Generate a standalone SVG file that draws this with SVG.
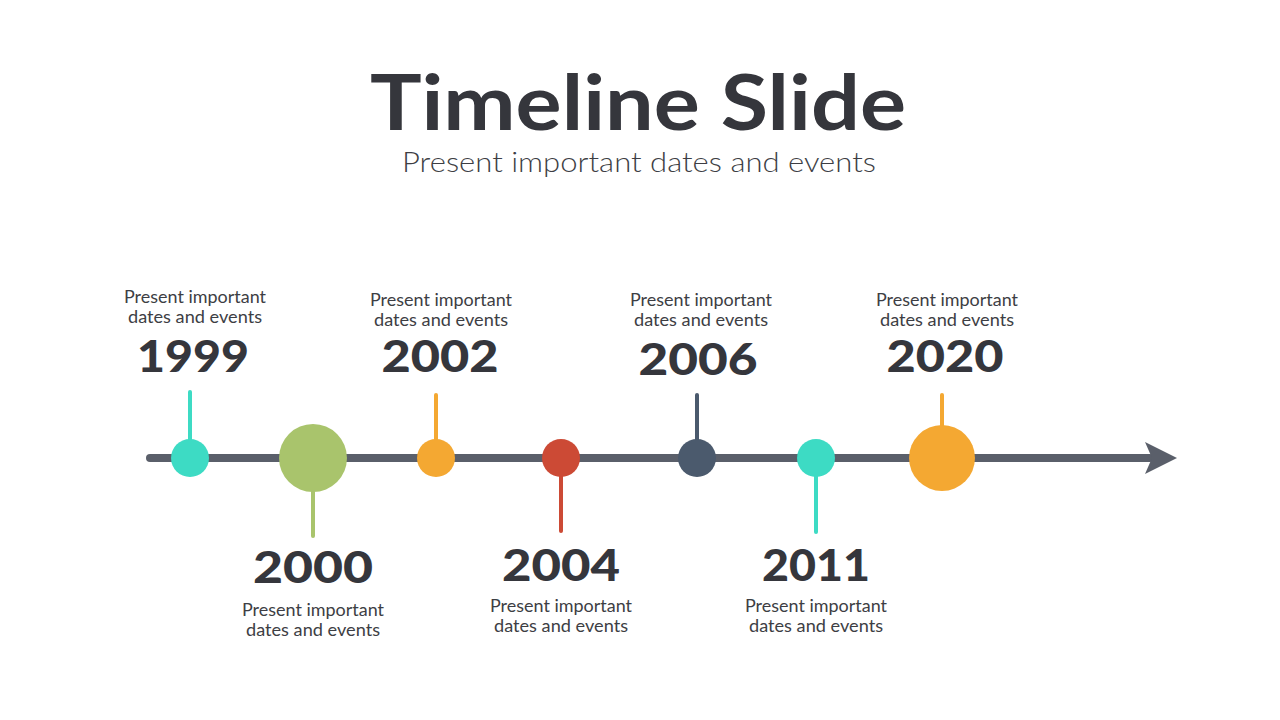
<svg xmlns="http://www.w3.org/2000/svg" width="1280" height="720" viewBox="0 0 1280 720">
<style>
.title{font-family:Lato,"Open Sans","Liberation Sans",sans-serif;font-weight:700;font-size:76px;fill:#35363c;text-anchor:middle}
.sub{font-family:Lato,"Open Sans","Liberation Sans",sans-serif;font-weight:300;font-size:28px;fill:#3d3e44;text-anchor:middle}
.year{font-family:Lato,"Open Sans","Liberation Sans",sans-serif;font-weight:900;font-size:44px;fill:#35363c;text-anchor:middle}
.desc{font-family:Lato,"Open Sans","Liberation Sans",sans-serif;font-size:17px;fill:#3d3e44;text-anchor:middle}
.stem{stroke-width:4;stroke-linecap:round;fill:none}
</style>
<rect width="1280" height="720" fill="#ffffff"/>
<text class="title" x="638" y="130" textLength="536" lengthAdjust="spacingAndGlyphs">Timeline Slide</text>
<text class="sub" x="639" y="172" textLength="474" lengthAdjust="spacingAndGlyphs">Present important dates and events</text>
<g id="connectors">
<line x1="150" y1="458" x2="1150" y2="458" stroke="#5a5f6a" stroke-width="8" stroke-linecap="round"/>
<path d="M1145,442 L1177,458 L1145,474 L1152,458 Z" fill="#5a5f6a"/>
<line class="stem" x1="190" y1="392" x2="190" y2="440" stroke="#3ddbc4"/>
<line class="stem" x1="313" y1="490" x2="313" y2="536" stroke="#a9c46c"/>
<line class="stem" x1="436" y1="395" x2="436" y2="440" stroke="#f4a832"/>
<line class="stem" x1="561" y1="476" x2="561" y2="531" stroke="#cc4a35"/>
<line class="stem" x1="697" y1="395" x2="697" y2="440" stroke="#4b5a6d"/>
<line class="stem" x1="816" y1="476" x2="816" y2="532" stroke="#3ddbc4"/>
<line class="stem" x1="942" y1="395" x2="942" y2="426" stroke="#f4a832"/>
</g>
<g id="n1999">
<circle cx="190" cy="458" r="19" fill="#3ddbc4"/>
<text class="desc" x="195" y="303" textLength="142" lengthAdjust="spacingAndGlyphs">Present important</text>
<text class="desc" x="195" y="323" textLength="134" lengthAdjust="spacingAndGlyphs">dates and events</text>
<text class="year" x="193" y="372" textLength="112" lengthAdjust="spacingAndGlyphs">1999</text>
</g>
<g id="n2000">
<circle cx="313" cy="458" r="34" fill="#a9c46c"/>
<text class="year" x="313" y="583" textLength="120" lengthAdjust="spacingAndGlyphs">2000</text>
<text class="desc" x="313" y="616" textLength="142" lengthAdjust="spacingAndGlyphs">Present important</text>
<text class="desc" x="313" y="636" textLength="134" lengthAdjust="spacingAndGlyphs">dates and events</text>
</g>
<g id="n2002">
<circle cx="436" cy="458" r="19" fill="#f4a832"/>
<text class="desc" x="441" y="306" textLength="142" lengthAdjust="spacingAndGlyphs">Present important</text>
<text class="desc" x="441" y="326" textLength="134" lengthAdjust="spacingAndGlyphs">dates and events</text>
<text class="year" x="440" y="372" textLength="117" lengthAdjust="spacingAndGlyphs">2002</text>
</g>
<g id="n2004">
<circle cx="561" cy="458" r="19" fill="#cc4a35"/>
<text class="year" x="561" y="581" textLength="118" lengthAdjust="spacingAndGlyphs">2004</text>
<text class="desc" x="561" y="612" textLength="142" lengthAdjust="spacingAndGlyphs">Present important</text>
<text class="desc" x="561" y="632" textLength="134" lengthAdjust="spacingAndGlyphs">dates and events</text>
</g>
<g id="n2006">
<circle cx="697" cy="458" r="19" fill="#4b5a6d"/>
<text class="desc" x="701" y="306" textLength="142" lengthAdjust="spacingAndGlyphs">Present important</text>
<text class="desc" x="701" y="326" textLength="134" lengthAdjust="spacingAndGlyphs">dates and events</text>
<text class="year" x="698" y="375" textLength="119" lengthAdjust="spacingAndGlyphs">2006</text>
</g>
<g id="n2011">
<circle cx="816" cy="458" r="19" fill="#3ddbc4"/>
<text class="year" x="816" y="581" textLength="108" lengthAdjust="spacingAndGlyphs">2011</text>
<text class="desc" x="816" y="612" textLength="142" lengthAdjust="spacingAndGlyphs">Present important</text>
<text class="desc" x="816" y="632" textLength="134" lengthAdjust="spacingAndGlyphs">dates and events</text>
</g>
<g id="n2020">
<circle cx="942" cy="458" r="33" fill="#f4a832"/>
<text class="desc" x="947" y="306" textLength="142" lengthAdjust="spacingAndGlyphs">Present important</text>
<text class="desc" x="947" y="326" textLength="134" lengthAdjust="spacingAndGlyphs">dates and events</text>
<text class="year" x="945" y="372" textLength="117" lengthAdjust="spacingAndGlyphs">2020</text>
</g>
</svg>
